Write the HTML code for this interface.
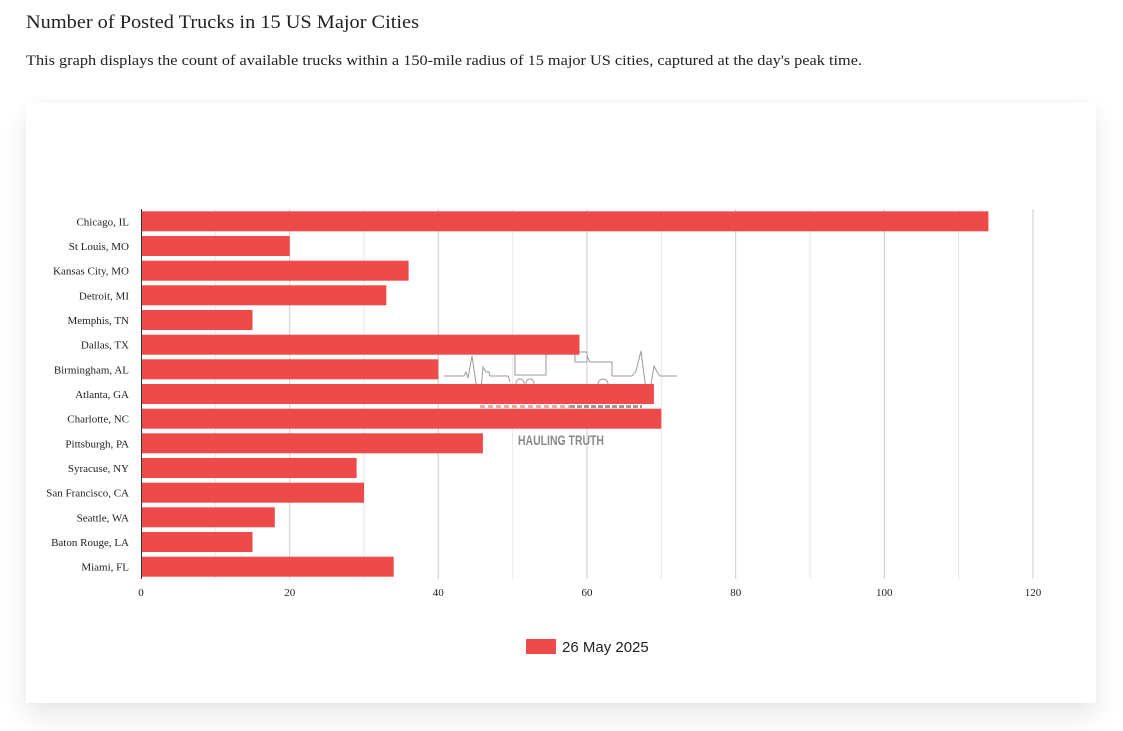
<!DOCTYPE html>
<html><head><meta charset="utf-8"><style>
html,body{margin:0;padding:0;background:#fff;width:1123px;height:731px;overflow:hidden}
.card{position:absolute;left:26px;top:103px;width:1070px;height:600px;background:#fff;box-shadow:0 14px 26px rgba(0,0,0,0.085),0 0 10px rgba(0,0,0,0.03)}
svg{position:absolute;left:0;top:0}
</style></head><body>
<div class="card"></div>
<svg width="1123" height="731" viewBox="0 0 1123 731" xmlns="http://www.w3.org/2000/svg">
<text x="26" y="28" font-family="Liberation Serif, serif" font-size="19" fill="#222" textLength="393" lengthAdjust="spacingAndGlyphs">Number of Posted Trucks in 15 US Major Cities</text>
<text x="26" y="65" font-family="Liberation Serif, serif" font-size="14.5" fill="#222" textLength="836" lengthAdjust="spacingAndGlyphs">This graph displays the count of available trucks within a 150-mile radius of 15 major US cities, captured at the day's peak time.</text>
<g stroke-width="1">
<line x1="215.3" y1="209" x2="215.3" y2="579" stroke="#e6e6e6"/>
<line x1="364" y1="209" x2="364" y2="579" stroke="#e6e6e6"/>
<line x1="512.7" y1="209" x2="512.7" y2="579" stroke="#e6e6e6"/>
<line x1="661.3" y1="209" x2="661.3" y2="579" stroke="#e6e6e6"/>
<line x1="810" y1="209" x2="810" y2="579" stroke="#e6e6e6"/>
<line x1="958.7" y1="209" x2="958.7" y2="579" stroke="#e6e6e6"/>
<line x1="289.7" y1="209" x2="289.7" y2="579" stroke="#cccccc"/>
<line x1="438.3" y1="209" x2="438.3" y2="579" stroke="#cccccc"/>
<line x1="587" y1="209" x2="587" y2="579" stroke="#cccccc"/>
<line x1="735.7" y1="209" x2="735.7" y2="579" stroke="#cccccc"/>
<line x1="884.3" y1="209" x2="884.3" y2="579" stroke="#cccccc"/>
<line x1="1033" y1="209" x2="1033" y2="579" stroke="#cccccc"/>
</g>
<!-- watermark -->
<g fill="none" stroke="#9a9a9a" stroke-width="1">
<polyline points="444,376 464,376 466,372 468,378 472,356 477,390"/>
<polyline points="481,390 483,367 486,372 489,372 490,376 508,376 510,382"/>
<rect x="515" y="354" width="31" height="21"/>
<circle cx="520" cy="383" r="4"/>
<circle cx="530" cy="383" r="4"/>
<rect x="575" y="352" width="12" height="10"/>
<polyline points="587,356 590,362 612,362 612,376"/>
<circle cx="603" cy="384" r="5"/>
<polyline points="612,376 632,376 636,371 641,351 646,390"/>
<polyline points="650,390 654,366 657,372 660,376 677,376"/>
</g>
<line x1="480" y1="406.5" x2="570" y2="406.5" stroke="#f0a6a6" stroke-width="3" stroke-dasharray="5,3"/>
<line x1="570" y1="406.5" x2="642" y2="406.5" stroke="#9a9a9a" stroke-width="3" stroke-dasharray="5,2"/>
<text x="518" y="445" font-family="Liberation Sans, sans-serif" font-weight="bold" font-size="14" fill="#8a8a8a" textLength="86" lengthAdjust="spacingAndGlyphs">HAULING TRUTH</text>
<g fill="#ef4a4a">
<rect x="141" y="211.3" width="847.4" height="20"/>
<rect x="141" y="236.0" width="148.7" height="20"/>
<rect x="141" y="260.7" width="267.6" height="20"/>
<rect x="141" y="285.3" width="245.3" height="20"/>
<rect x="141" y="310.0" width="111.5" height="20"/>
<rect x="141" y="334.7" width="438.5" height="20"/>
<rect x="141" y="359.3" width="297.3" height="20"/>
<rect x="141" y="384.0" width="512.9" height="20"/>
<rect x="141" y="408.7" width="520.3" height="20"/>
<rect x="141" y="433.3" width="341.9" height="20"/>
<rect x="141" y="458.0" width="215.6" height="20"/>
<rect x="141" y="482.7" width="223.0" height="20"/>
<rect x="141" y="507.3" width="133.8" height="20"/>
<rect x="141" y="532.0" width="111.5" height="20"/>
<rect x="141" y="556.7" width="252.7" height="20"/>
</g>
<line x1="141.5" y1="209" x2="141.5" y2="579" stroke="#333" stroke-width="1"/>
<g font-family="Liberation Serif, serif" font-size="11" fill="#222" text-anchor="end">
<text x="129" y="225.3">Chicago, IL</text>
<text x="129" y="250.0">St Louis, MO</text>
<text x="129" y="274.7">Kansas City, MO</text>
<text x="129" y="299.3">Detroit, MI</text>
<text x="129" y="324.0">Memphis, TN</text>
<text x="129" y="348.7">Dallas, TX</text>
<text x="129" y="373.3">Birmingham, AL</text>
<text x="129" y="398.0">Atlanta, GA</text>
<text x="129" y="422.7">Charlotte, NC</text>
<text x="129" y="447.3">Pittsburgh, PA</text>
<text x="129" y="472.0">Syracuse, NY</text>
<text x="129" y="496.7">San Francisco, CA</text>
<text x="129" y="521.3">Seattle, WA</text>
<text x="129" y="546.0">Baton Rouge, LA</text>
<text x="129" y="570.7">Miami, FL</text>
</g>
<g font-family="Liberation Serif, serif" font-size="11" fill="#222" text-anchor="middle">
<text x="141" y="596">0</text>
<text x="289.7" y="596">20</text>
<text x="438.3" y="596">40</text>
<text x="587" y="596">60</text>
<text x="735.7" y="596">80</text>
<text x="884.3" y="596">100</text>
<text x="1033" y="596">120</text>
</g>
<rect x="526" y="639" width="30" height="15" fill="#ef4a4a"/>
<text x="562" y="652" font-family="Liberation Sans, sans-serif" font-size="15" fill="#222">26 May 2025</text>
</svg>
</body></html>
